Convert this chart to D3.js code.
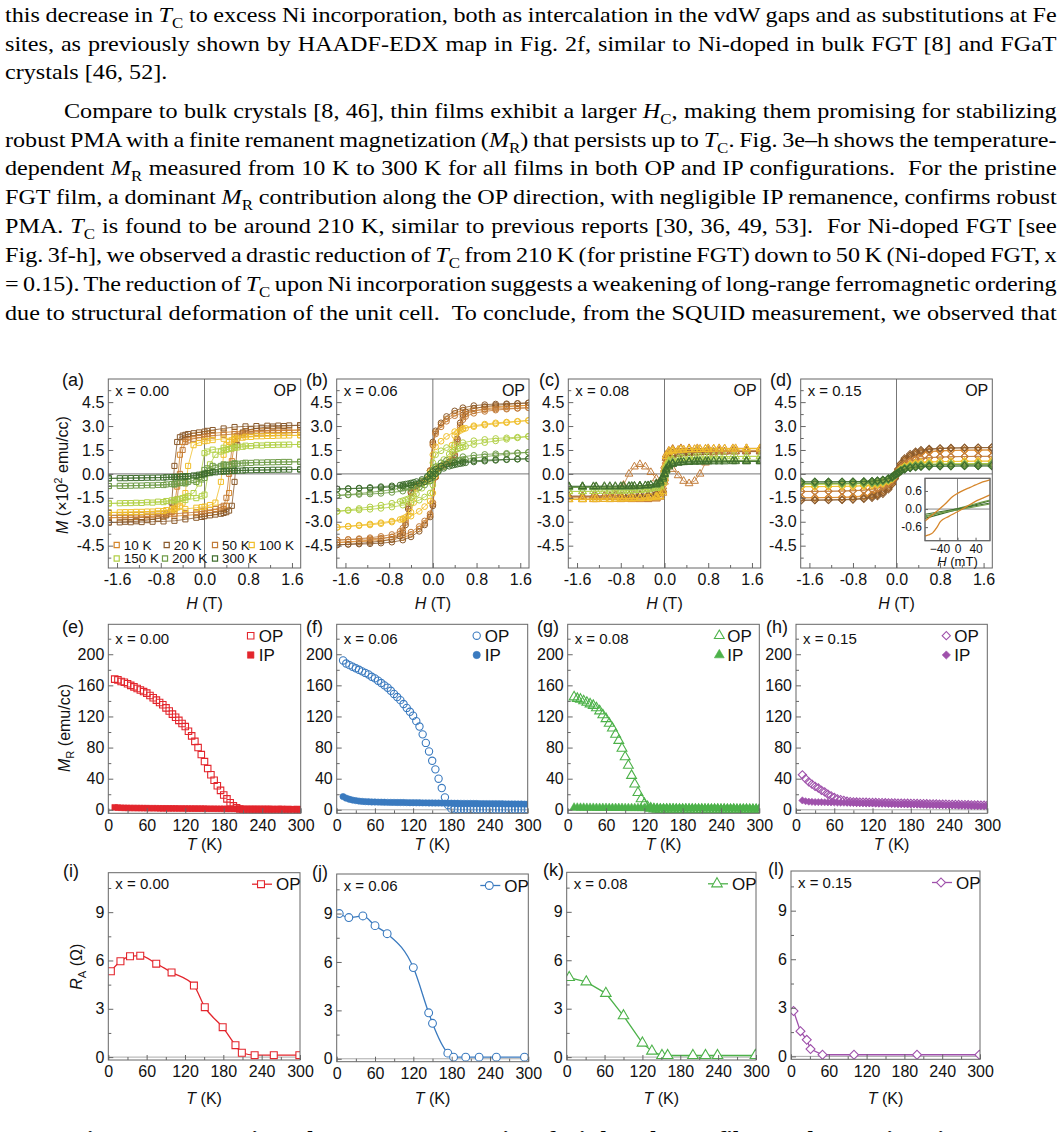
<!DOCTYPE html>
<html lang="en">
<head>
<meta charset="UTF-8">
<title>Fig. 3 - Ni-doped FGT films: hysteresis, remanence and anomalous Hall</title>
<script src="https://d3js.org/d3.v7.min.js"></script>
<style>
  * { margin: 0; padding: 0; box-sizing: border-box; }
  body { background: #fff; width: 1061px; height: 1132px; overflow: hidden; }
  svg text { font-family: "Liberation Sans", Arial, sans-serif; fill: #111; }
  svg text.serif { font-family: "Liberation Serif", "Times New Roman", serif; font-size: 21px; fill: #000; }
</style>
</head>
<body>
<svg id="fig" width="1061" height="1132"></svg>
<script>
// ---------- data ----------
const temps = [10, 20, 50, 100, 150, 200, 300];
const tempColors = ["#d6862b", "#8a5a2c", "#c27c3a", "#f0bf2c", "#b2d046", "#6f9c48", "#3f6e2e"];

// descending branches M(H) in 1e2 emu/cc, one row per temperature (10 K ... 300 K)
const hGridA = [1.75, 1.55, 1.35, 1.15, 0.95, 0.75, 0.55, 0.35, 0.15, 0.05, 0, -0.1, -0.2, -0.3, -0.35, -0.4, -0.45, -0.5, -0.55, -0.6, -0.7, -0.85, -1.05, -1.25, -1.45, -1.75];
const loopA = [
  [2.75, 2.74, 2.73, 2.72, 2.7, 2.68, 2.65, 2.6, 2.55, 2.52, 2.5, 2.45, 2.4, 2.3, 2.2, 2.0, 1.2, -0.8, -2.0, -2.4, -2.55, -2.62, -2.67, -2.7, -2.72, -2.75],
  [3.05, 3.04, 3.03, 3.02, 3.0, 2.98, 2.94, 2.85, 2.75, 2.7, 2.65, 2.6, 2.55, 2.5, 2.45, 2.4, 2.3, 2.0, 0.5, -1.8, -2.6, -2.8, -2.9, -2.97, -3.0, -3.05],
  [2.6, 2.59, 2.58, 2.57, 2.55, 2.53, 2.5, 2.45, 2.4, 2.35, 2.3, 2.25, 2.2, 2.1, 2.0, 1.5, 0.0, -1.6, -2.2, -2.35, -2.45, -2.5, -2.54, -2.57, -2.59, -2.6],
  [2.42, 2.41, 2.4, 2.38, 2.36, 2.33, 2.28, 2.2, 2.12, 2.08, 2.05, 1.95, 1.8, 0.5, -1.2, -1.8, -2.0, -2.1, -2.17, -2.22, -2.27, -2.32, -2.36, -2.38, -2.4, -2.42],
  [1.85, 1.84, 1.83, 1.82, 1.8, 1.77, 1.72, 1.64, 1.52, 1.4, 1.3, -0.6, -1.2, -1.4, -1.47, -1.52, -1.56, -1.6, -1.63, -1.66, -1.7, -1.74, -1.78, -1.81, -1.83, -1.85],
  [0.76, 0.75, 0.74, 0.73, 0.72, 0.7, 0.67, 0.6, 0.5, 0.35, 0.25, -0.2, -0.4, -0.5, -0.53, -0.56, -0.58, -0.6, -0.62, -0.64, -0.66, -0.69, -0.71, -0.73, -0.75, -0.76],
  [0.28, 0.27, 0.26, 0.25, 0.24, 0.23, 0.21, 0.18, 0.12, 0.05, 0.02, -0.05, -0.1, -0.14, -0.15, -0.16, -0.17, -0.18, -0.19, -0.2, -0.21, -0.23, -0.24, -0.26, -0.27, -0.28]
];

const hGridB = [1.75, 1.55, 1.35, 1.15, 0.95, 0.75, 0.55, 0.4, 0.25, 0.15, 0.05, 0, -0.05, -0.1, -0.2, -0.3, -0.35, -0.4, -0.45, -0.5, -0.55, -0.6, -0.75, -0.95, -1.15, -1.35, -1.55, -1.75];
const loopB = [
  [4.3, 4.27, 4.25, 4.22, 4.18, 4.12, 4.0, 3.8, 3.45, 3.1, 2.6, 1.9, 0.2, -0.38, -0.58, -0.72, -0.82, -1.15, -2.1, -3.05, -3.55, -3.75, -3.95, -4.07, -4.15, -4.21, -4.26, -4.3],
  [4.45, 4.42, 4.4, 4.38, 4.34, 4.28, 4.15, 3.95, 3.6, 3.2, 2.7, 2.0, 0.2, -0.4, -0.6, -0.75, -0.85, -1.2, -2.2, -3.2, -3.7, -3.9, -4.1, -4.22, -4.3, -4.36, -4.41, -4.45],
  [4.15, 4.12, 4.1, 4.07, 4.03, 3.97, 3.85, 3.65, 3.3, 2.95, 2.5, 1.8, 0.2, -0.35, -0.55, -0.7, -0.8, -1.1, -2.0, -2.9, -3.4, -3.6, -3.8, -3.92, -4.0, -4.06, -4.11, -4.15],
  [3.35, 3.3, 3.25, 3.2, 3.12, 3.02, 2.85, 2.65, 2.35, 2.05, 1.7, 1.2, 0.1, -0.3, -0.45, -0.9, -1.8, -2.4, -2.6, -2.72, -2.8, -2.86, -2.96, -3.06, -3.14, -3.21, -3.28, -3.35],
  [2.35, 2.3, 2.26, 2.22, 2.16, 2.08, 1.96, 1.83, 1.65, 1.45, 1.2, 0.7, -0.1, -0.5, -0.9, -1.25, -1.38, -1.48, -1.56, -1.62, -1.68, -1.73, -1.84, -1.96, -2.07, -2.17, -2.26, -2.35],
  [1.35, 1.32, 1.29, 1.26, 1.22, 1.16, 1.08, 0.98, 0.85, 0.7, 0.45, 0.25, 0.0, -0.2, -0.45, -0.62, -0.68, -0.74, -0.79, -0.83, -0.87, -0.9, -0.99, -1.08, -1.16, -1.23, -1.3, -1.35],
  [0.95, 0.93, 0.91, 0.89, 0.86, 0.82, 0.76, 0.7, 0.6, 0.5, 0.3, 0.15, 0.0, -0.15, -0.35, -0.48, -0.53, -0.57, -0.61, -0.64, -0.67, -0.7, -0.75, -0.8, -0.85, -0.89, -0.92, -0.95]
];

const hGridC = [1.75, 1.5, 1.25, 1.0, 0.8, 0.6, 0.45, 0.3, 0.15, 0.08, 0.03, 0, -0.03, -0.08, -0.15, -0.25, -0.35, -0.45, -0.55, -0.65, -0.75, -0.9, -1.1, -1.3, -1.5, -1.75];
const loopC = [
  [1.6, 1.6, 1.6, 1.6, 1.6, 1.6, 1.6, 1.58, 1.55, 1.45, 1.2, 0.5, -0.8, -1.3, -1.45, -1.5, -1.52, -1.54, -1.55, -1.56, -1.57, -1.58, -1.59, -1.6, -1.6, -1.6],
  [1.4, 1.4, 1.4, 1.39, 1.38, 1.37, 1.35, 1.32, 1.28, 1.2, 1.0, 0.3, -0.5, -1.0, -1.15, -1.22, -1.27, -1.3, -1.32, -1.34, -1.36, -1.37, -1.38, -1.39, -1.4, -1.4],
  [1.45, 1.45, 1.45, 1.46, 1.48, 1.5, 1.55, 1.6, 1.55, 1.4, 1.0, 0.2, -0.4, -0.5, -0.3, 0.1, 0.45, 0.6, 0.45, 0.0, -0.7, -1.25, -1.4, -1.43, -1.44, -1.45],
  [1.58, 1.58, 1.57, 1.57, 1.56, 1.55, 1.54, 1.52, 1.48, 1.4, 1.1, 0.3, -0.6, -1.2, -1.4, -1.47, -1.5, -1.52, -1.53, -1.54, -1.55, -1.56, -1.57, -1.57, -1.58, -1.58],
  [1.1, 1.1, 1.09, 1.08, 1.07, 1.05, 1.02, 0.98, 0.9, 0.8, 0.5, 0.1, -0.3, -0.7, -0.85, -0.93, -0.98, -1.01, -1.03, -1.05, -1.06, -1.07, -1.08, -1.09, -1.1, -1.1],
  [0.85, 0.85, 0.84, 0.84, 0.83, 0.82, 0.8, 0.77, 0.7, 0.6, 0.35, 0.05, -0.2, -0.5, -0.65, -0.72, -0.76, -0.78, -0.8, -0.81, -0.82, -0.83, -0.84, -0.84, -0.85, -0.85],
  [0.78, 0.78, 0.78, 0.77, 0.77, 0.76, 0.75, 0.72, 0.66, 0.55, 0.3, 0.02, -0.2, -0.45, -0.6, -0.68, -0.72, -0.74, -0.75, -0.76, -0.76, -0.77, -0.77, -0.78, -0.78, -0.78]
];

const hGridD = [1.75, 1.5, 1.25, 1.0, 0.8, 0.6, 0.45, 0.35, 0.25, 0.15, 0.08, 0.03, 0, -0.03, -0.08, -0.15, -0.25, -0.35, -0.45, -0.6, -0.8, -1.0, -1.25, -1.5, -1.75];
const loopD = [
  [1.5, 1.5, 1.49, 1.48, 1.46, 1.42, 1.36, 1.28, 1.15, 0.9, 0.6, 0.25, 0.05, -0.15, -0.45, -0.8, -1.05, -1.2, -1.3, -1.38, -1.43, -1.46, -1.48, -1.49, -1.5],
  [1.65, 1.65, 1.64, 1.63, 1.61, 1.57, 1.5, 1.4, 1.25, 0.98, 0.65, 0.3, 0.08, -0.15, -0.5, -0.88, -1.15, -1.32, -1.43, -1.52, -1.58, -1.61, -1.63, -1.64, -1.65],
  [1.1, 1.1, 1.09, 1.08, 1.06, 1.03, 0.98, 0.92, 0.82, 0.64, 0.42, 0.16, 0.03, -0.1, -0.33, -0.6, -0.78, -0.88, -0.95, -1.01, -1.05, -1.07, -1.09, -1.1, -1.1],
  [0.8, 0.8, 0.79, 0.78, 0.77, 0.75, 0.72, 0.68, 0.6, 0.48, 0.32, 0.12, 0.02, -0.08, -0.25, -0.45, -0.58, -0.65, -0.7, -0.74, -0.77, -0.78, -0.79, -0.8, -0.8],
  [0.65, 0.65, 0.64, 0.64, 0.63, 0.61, 0.59, 0.55, 0.49, 0.39, 0.26, 0.1, 0.02, -0.06, -0.2, -0.36, -0.47, -0.53, -0.57, -0.6, -0.62, -0.63, -0.64, -0.65, -0.65],
  [0.6, 0.6, 0.59, 0.59, 0.58, 0.57, 0.55, 0.52, 0.46, 0.37, 0.25, 0.1, 0.02, -0.06, -0.19, -0.34, -0.44, -0.5, -0.53, -0.56, -0.58, -0.59, -0.59, -0.6, -0.6],
  [0.5, 0.5, 0.5, 0.49, 0.49, 0.48, 0.46, 0.43, 0.38, 0.3, 0.2, 0.08, 0.01, -0.05, -0.16, -0.28, -0.37, -0.42, -0.45, -0.47, -0.48, -0.49, -0.5, -0.5, -0.5]
];

// inset of (d): low-field loops, H in mT
const insetOrangeUpH = [-72, -56, -40, -24, -12, 0, 14, 28, 40, 56, 72];
const insetOrangeUpM = [-0.4, -0.2, 0.0, 0.22, 0.4, 0.52, 0.63, 0.72, 0.8, 0.9, 0.97];
const insetOrangeDnH = [-72, -64, -55, -46, -38, -20, 0, 20, 38, 56, 72];
const insetOrangeDnM = [-0.9, -0.86, -0.79, -0.62, -0.42, -0.25, -0.09, 0.08, 0.24, 0.36, 0.47];
const insetGreenH = [-72, -36, 0, 36, 72];
const insetGreenM = [
  [-0.31, -0.16, -0.02, 0.13, 0.27],
  [-0.26, -0.12, 0.02, 0.16, 0.3],
  [-0.17, -0.08, 0.01, 0.1, 0.2],
  [-0.22, -0.12, -0.03, 0.07, 0.17]
];
const insetGreenColors = ["#3f6e2e", "#6f9c48", "#3f6e2e", "#6f9c48"];

// remanent magnetization vs T (emu/cc)
const tK = [10, 15, 20, 25, 30, 35, 40, 45, 50, 55, 60, 65, 70, 75, 80, 85, 90, 95, 100, 105,
  110, 115, 120, 125, 130, 135, 140, 145, 150, 155, 160, 165, 170, 175, 180, 185, 190, 195, 200, 205,
  210, 215, 220, 225, 230, 235, 240, 245, 250, 255, 260, 265, 270, 275, 280, 285, 290, 295, 300];
const mrOP_000 = [168, 167, 165, 164, 162, 160, 158, 156, 154, 152, 150, 147, 144, 141, 138, 135, 131, 127, 123, 119,
  115, 111, 107, 101, 95, 88, 80, 71, 62, 53, 45, 38, 31, 25, 19, 14, 9, 5, 2.5, 1,
  0.4, 0.3, 0.3, 0.2, 0.3, 0.2, 0.2, 0.3, 0.2, 0.2, 0.1, 0.2, 0.2, 0.1, 0.2, 0.1, 0.1, 0.2, 0.1];
const mrIP_000 = [3.2, 2.8, 2.6, 2.5, 2.4, 2.3, 2.3, 2.2, 2.2, 2.1, 2.1, 2.0, 2.0, 2.0, 1.9, 1.9, 1.9, 1.8, 1.8, 1.8,
  1.7, 1.7, 1.7, 1.6, 1.6, 1.6, 1.5, 1.5, 1.5, 1.4, 1.4, 1.4, 1.3, 1.3, 1.3, 1.2, 1.2, 1.2, 1.1, 1.1,
  1.1, 1.0, 1.0, 1.0, 1.0, 0.9, 0.9, 0.9, 0.9, 0.8, 0.8, 0.8, 0.8, 0.7, 0.7, 0.7, 0.7, 0.6, 0.6];
const mrOP_006 = [192, 188, 186, 184, 182, 180, 178, 176, 174, 171, 169, 166, 163, 160, 157, 153, 149, 145, 141, 136,
  131, 126, 121, 114, 107, 97, 86, 75, 63, 52, 40, 28, 16, 6, 1.5, 0.6, 0.4, 0.3, 0.3, 0.3,
  0.3, 0.2, 0.3, 0.2, 0.2, 0.3, 0.2, 0.2, 0.2, 0.2, 0.2, 0.1, 0.2, 0.2, 0.1, 0.2, 0.1, 0.1, 0.1];
const mrIP_006 = [17, 15, 13.5, 12.5, 11.8, 11.2, 10.8, 10.5, 10.3, 10.1, 10.0, 9.9, 9.8, 9.7, 9.6, 9.5, 9.5, 9.4, 9.3, 9.3,
  9.2, 9.1, 9.1, 9.0, 9.0, 8.9, 8.9, 8.8, 8.8, 8.7, 8.7, 8.6, 8.6, 8.5, 8.5, 8.4, 8.4, 8.3, 8.3, 8.2,
  8.2, 8.1, 8.1, 8.0, 8.0, 7.9, 7.9, 7.8, 7.8, 7.7, 7.7, 7.6, 7.6, 7.5, 7.5, 7.4, 7.4, 7.3, 7.3];
const mrOP_008 = [145, 143, 142, 140, 138, 136, 134, 131, 127, 122, 117, 111, 105, 97, 89, 79, 68, 57, 44, 33,
  22, 14, 8, 4, 2, 1, 0.6, 0.4, 0.3, 0.3, 0.3, 0.3, 0.2, 0.3, 0.2, 0.2, 0.3, 0.2, 0.2, 0.2,
  0.2, 0.2, 0.2, 0.1, 0.2, 0.2, 0.1, 0.2, 0.1, 0.1, 0.2, 0.1, 0.1, 0.1, 0.2, 0.1, 0.1, 0.1, 0.1];
const mrIP_008 = [2.8, 2.7, 2.6, 2.6, 2.5, 2.5, 2.5, 2.4, 2.4, 2.4, 2.4, 2.3, 2.3, 2.3, 2.3, 2.3, 2.2, 2.2, 2.2, 2.2,
  2.2, 2.1, 2.1, 2.1, 2.1, 2.1, 2.0, 2.0, 2.0, 2.0, 2.0, 1.9, 1.9, 1.9, 1.9, 1.9, 1.8, 1.8, 1.8, 1.8,
  1.8, 1.7, 1.7, 1.7, 1.7, 1.7, 1.6, 1.6, 1.6, 1.6, 1.6, 1.5, 1.5, 1.5, 1.5, 1.5, 1.4, 1.4, 1.4];
const mrOP_015 = [45, 40, 36, 33, 30, 28, 25, 23, 20, 18, 16, 14, 13, 12, 11, 10.5, 10.2, 10.0, 9.9, 9.8,
  9.7, 9.6, 9.5, 9.4, 9.3, 9.2, 9.1, 9.0, 8.9, 8.8, 8.7, 8.6, 8.5, 8.4, 8.3, 8.2, 8.1, 8.0, 7.9, 7.8,
  7.7, 7.6, 7.5, 7.4, 7.3, 7.2, 7.1, 7.0, 6.9, 6.8, 6.7, 6.6, 6.5, 6.4, 6.3, 6.2, 6.1, 6.0, 5.9];
const mrIP_015 = [12, 11, 10.5, 10.2, 10.0, 9.9, 9.8, 9.7, 9.6, 9.5, 9.4, 9.3, 9.2, 9.1, 9.0, 8.9, 8.8, 8.7, 8.6, 8.5,
  8.4, 8.3, 8.2, 8.1, 8.0, 7.9, 7.8, 7.7, 7.6, 7.5, 7.4, 7.3, 7.2, 7.1, 7.0, 6.9, 6.8, 6.7, 6.6, 6.5,
  6.4, 6.3, 6.2, 6.1, 6.0, 5.9, 5.8, 5.7, 5.6, 5.5, 5.4, 5.3, 5.2, 5.1, 5.0, 4.9, 4.8, 4.7, 4.6];

// anomalous Hall amplitude R_A (ohm) vs T
const raT_000 = [4, 19, 34, 50, 75, 99, 134, 151, 179, 199, 209, 229, 259, 299];
const ra_000 = [5.33, 5.95, 6.26, 6.3, 5.8, 5.26, 4.44, 3.1, 1.86, 0.74, 0.27, 0.12, 0.12, 0.12];
const raT_006 = [4, 19, 41, 60, 79, 120, 144, 150, 174, 183, 202, 223, 250, 294];
const ra_006 = [9.0, 8.75, 8.85, 8.25, 7.75, 5.65, 2.85, 2.2, 0.35, 0.1, 0.1, 0.1, 0.1, 0.1];
const raT_008 = [4, 31, 62, 90, 120, 135, 151, 160, 200, 220, 239, 299];
const ra_008 = [4.93, 4.66, 3.95, 2.56, 0.87, 0.37, 0.1, 0.1, 0.1, 0.1, 0.1, 0.1];
const raT_015 = [4, 15, 25, 31, 50, 100, 200, 299];
const ra_015 = [2.8, 1.56, 1.02, 0.45, 0.1, 0.1, 0.1, 0.1];

const dopings = ["x = 0.00", "x = 0.06", "x = 0.08", "x = 0.15"];
const seriesColors = ["#e3262d", "#3a7abf", "#4db24a", "#9f51ab"];
const loopTicksX = [-1.6, -0.8, 0.0, 0.8, 1.6];
const loopTicksY = [-4.5, -3.0, -1.5, 0.0, 1.5, 3.0, 4.5];
const tempTicks = [0, 60, 120, 180, 240, 300];
const mrTicks = [0, 40, 80, 120, 160, 200];
const raTicks = [0, 3, 6, 9];

// ---------- drawing ----------
const svg = d3.select("#fig");
const FONT = "Liberation Sans, Arial, sans-serif";

function rich(sel, segs, size) {
  let shift = 0;
  segs.forEach(([s, k]) => {
    const ts = sel.append("tspan").text(s);
    let target = 0;
    if (k === "sub") { target = size * 0.28; ts.attr("font-size", size * 0.7); }
    if (k === "sup") { target = -size * 0.4; ts.attr("font-size", size * 0.7); }
    if (k === "i") ts.attr("font-style", "italic");
    if (target !== shift) { ts.attr("dy", target - shift); shift = target; }
  });
  return sel;
}

// body text, one justified line at a time
const textLines = [
  { y: 22, x0: 5, segs: [["this decrease in "], ["T", "i"], ["C", "sub"], [" to excess Ni incorporation, both as intercalation in the vdW gaps and as substitutions at Fe"]] },
  { y: 51, x0: 5, segs: [["sites, as previously shown by HAADF-EDX map in Fig. 2f, similar to Ni-doped in bulk FGT [8] and FGaT"]] },
  { y: 79, x0: 5, last: true, segs: [["crystals [46, 52]."]] },
  { y: 118, x0: 64, segs: [["Compare to bulk crystals [8, 46], thin films exhibit a larger "], ["H", "i"], ["C", "sub"], [", making them promising for stabilizing"]] },
  { y: 147, x0: 5, segs: [["robust PMA with a finite remanent magnetization ("], ["M", "i"], ["R", "sub"], [") that persists up to "], ["T", "i"], ["C", "sub"], [". Fig. 3e\u2013h shows the temperature-"]] },
  { y: 175, x0: 5, segs: [["dependent "], ["M", "i"], ["R", "sub"], [" measured from 10 K to 300 K for all films in both OP and IP configurations.  For the pristine"]] },
  { y: 204, x0: 5, segs: [["FGT film, a dominant "], ["M", "i"], ["R", "sub"], [" contribution along the OP direction, with negligible IP remanence, confirms robust"]] },
  { y: 233, x0: 5, segs: [["PMA. "], ["T", "i"], ["C", "sub"], [" is found to be around 210 K, similar to previous reports [30, 36, 49, 53].  For Ni-doped FGT [see"]] },
  { y: 262, x0: 5, segs: [["Fig. 3f-h], we observed a drastic reduction of "], ["T", "i"], ["C", "sub"], [" from 210 K (for pristine FGT) down to 50 K (Ni-doped FGT, x"]] },
  { y: 291, x0: 5, segs: [["= 0.15). The reduction of "], ["T", "i"], ["C", "sub"], [" upon Ni incorporation suggests a weakening of long-range ferromagnetic ordering"]] },
  { y: 320, x0: 5, segs: [["due to structural deformation of the unit cell.  To conclude, from the SQUID measurement, we observed that"]] }
];
const textRight = 1057;
// the page text is wider than the font at this height: find one common horizontal stretch
const bodyTexts = textLines.map(line => {
  const t = svg.append("text").attr("class", "serif").attr("x", 0).attr("y", 0)
    .attr("xml:space", "preserve");
  rich(t, line.segs, 21);
  const len = t.node().getComputedTextLength();
  const spaces = line.segs.map(s => s[0]).join("").split(" ").length - 1;
  return { t, len, spaces, line };
});
const stretch = d3.median(bodyTexts.filter(b => !b.line.last), b => (textRight - b.line.x0) / b.len);
bodyTexts.forEach(({ t, len, spaces, line }) => {
  t.attr("transform", `translate(${line.x0},${line.y}) scale(${stretch},1)`);
  if (!line.last) {
    t.style("word-spacing", (((textRight - line.x0) / stretch - len) / spaces) + "px");
  }
});

// caption, cut by the bottom edge as in the page crop
svg.append("text").attr("class", "serif").attr("font-weight", "bold")
  .attr("transform", `translate(72,1146) scale(${stretch},1)`)
  .text("Figure 3: Magnetic and transport properties of Ni-doped FGT films and MFM imaging.");

let clipId = 0;
function panel(r, xDom, yDom) {
  const g = svg.append("g");
  const x = d3.scaleLinear().domain(xDom).range([r.x0, r.x1]);
  const y = d3.scaleLinear().domain(yDom).range([r.y1, r.y0]);
  const id = "clip" + (clipId++);
  svg.append("clipPath").attr("id", id).append("rect")
    .attr("x", r.x0).attr("y", r.y0).attr("width", r.x1 - r.x0).attr("height", r.y1 - r.y0);
  const back = g.append("g");
  const data = g.append("g").attr("clip-path", `url(#${id})`);
  const front = g.append("g");
  return { g, back, data, front, x, y, r };
}

function axes(p, o) {
  const { front, x, y, r } = p;
  const styleAxis = s => {
    s.select(".domain").remove();
    s.selectAll("line").attr("stroke", "#666");
    s.attr("font-size", 16).attr("font-family", FONT);
    s.selectAll("text").attr("fill", "#111");
  };
  front.append("g").attr("transform", `translate(0,${r.y1})`)
    .call(d3.axisBottom(x).tickValues(o.xMinor).tickSize(-3).tickFormat("")).call(styleAxis);
  front.append("g").attr("transform", `translate(0,${r.y1})`)
    .call(d3.axisBottom(x).tickValues(o.xTicks).tickSize(-5).tickPadding(6).tickFormat(o.xFmt)).call(styleAxis);
  front.append("g").attr("transform", `translate(${r.x0},0)`)
    .call(d3.axisLeft(y).tickValues(o.yMinor).tickSize(-3).tickFormat("")).call(styleAxis);
  front.append("g").attr("transform", `translate(${r.x0},0)`)
    .call(d3.axisLeft(y).tickValues(o.yTicks).tickSize(-5).tickPadding(4).tickFormat(o.yFmt)).call(styleAxis);
  front.append("rect").attr("x", r.x0).attr("y", r.y0)
    .attr("width", r.x1 - r.x0).attr("height", r.y1 - r.y0)
    .attr("fill", "none").attr("stroke", "#666").attr("stroke-width", 1);
}

function marker(type, size) {
  if (type === "di") return d3.symbol().type(d3.symbolSquare).size(size)();
  const m = { sq: d3.symbolSquare, ci: d3.symbolCircle, tr: d3.symbolTriangle };
  return d3.symbol().type(m[type]).size(size)();
}

function markers(g, pts, x, y, type, size, color, filled, sw) {
  g.selectAll(null).data(pts).join("path")
    .attr("transform", d => `translate(${x(d[0])},${y(d[1])})` + (type === "di" ? " rotate(45)" : ""))
    .attr("d", marker(type, size))
    .attr("fill", filled ? color : "none")
    .attr("stroke", color).attr("stroke-width", sw);
}

function label(x, y, segs, size, anchor, rot) {
  const t = svg.append("text").attr("font-size", size).attr("text-anchor", anchor || "start");
  if (rot) t.attr("transform", `translate(${x},${y}) rotate(-90)`);
  else t.attr("x", x).attr("y", y);
  rich(t, segs, size);
  return t;
}

const shapes = ["sq", "ci", "tr", "di"];
const letters1 = ["(a)", "(b)", "(c)", "(d)"];
const letters2 = ["(e)", "(f)", "(g)", "(h)"];
const letters3 = ["(i)", "(j)", "(k)", "(l)"];

// ---- row 1: hysteresis loops ----
const row1 = [
  { x0: 108.3, x1: 300.7, y0: 379, y1: 568, lx: 62 },
  { x0: 336.7, x1: 529, y0: 379, y1: 568, lx: 306 },
  { x0: 568.3, x1: 760.7, y0: 379, y1: 568, lx: 539 },
  { x0: 800.7, x1: 992.3, y0: 379, y1: 568, lx: 770 }
];
const grids = [hGridA, hGridB, hGridC, hGridD];
const loops = [loopA, loopB, loopC, loopD];
const fmt1 = d => d.toFixed(1);

row1.forEach((r, k) => {
  const p = panel(r, [-1.76, 1.76], [-5.9, 5.95]);
  p.back.append("line").attr("x1", r.x0).attr("x2", r.x1).attr("y1", p.y(0)).attr("y2", p.y(0)).attr("stroke", "#777");
  p.back.append("line").attr("x1", p.x(0)).attr("x2", p.x(0)).attr("y1", r.y0).attr("y2", r.y1).attr("stroke", "#777");
  const line = d3.line().x(d => p.x(d[0])).y(d => p.y(d[1]));
  loops[k].forEach((m, i) => {
    const down = grids[k].map((h, j) => [h, m[j]]);
    // return branch: point-reflection of the measured descending branch
    const up = grids[k].map((h, j) => [-h, -m[j]]);
    const pts = down.concat(up);
    p.data.append("path").attr("d", line(pts)).attr("fill", "none")
      .attr("stroke", tempColors[i]).attr("stroke-width", 1).attr("stroke-opacity", 0.8);
    markers(p.data, pts, p.x, p.y, shapes[k], 26, tempColors[i], false, 1);
  });
  axes(p, {
    xTicks: loopTicksX, xMinor: [-1.2, -0.4, 0.4, 1.2], xFmt: fmt1,
    yTicks: loopTicksY, yMinor: [-5.25, -3.75, -2.25, -0.75, 0.75, 2.25, 3.75, 5.25], yFmt: fmt1
  });
  label(r.lx, r.y0 + 7, [[letters1[k]]], 18);
  label(r.x0 + 7, r.y0 + 17, [[dopings[k]]], 15);
  label(r.x1 - 4, r.y0 + 17, [["OP"]], 16, "end");
  label((r.x0 + r.x1) / 2, 609, [["H", "i"], [" (T)"]], 16, "middle");

  if (k === 0) {
    const leg = [[116.7, 549.5], [166.7, 549.5], [215, 549.5], [251.7, 549.5], [116.7, 563], [165, 563], [215, 563]];
    temps.forEach((T, i) => {
      const [lx, ly] = leg[i];
      svg.append("path").attr("transform", `translate(${lx},${ly - 4.5})`).attr("d", marker("sq", 26))
        .attr("fill", "none").attr("stroke", tempColors[i]).attr("stroke-width", 1.2);
      label(lx + 7, ly, [[T + " K"]], 13.5);
    });
  }
  if (k === 3) {
    // inset: low-field loops
    const ir = { x0: 925, x1: 990, y0: 478.3, y1: 540.7 };
    const ix = d3.scaleLinear().domain([-72, 72]).range([ir.x0, ir.x1]);
    const iy = d3.scaleLinear().domain([-1.05, 1.02]).range([ir.y1, ir.y0]);
    const ig = svg.append("g");
    ig.append("rect").attr("x", ir.x0).attr("y", ir.y0).attr("width", ir.x1 - ir.x0).attr("height", ir.y1 - ir.y0)
      .attr("fill", "#fff").attr("stroke", "#666");
    ig.append("line").attr("x1", ir.x0).attr("x2", ir.x1).attr("y1", iy(0)).attr("y2", iy(0)).attr("stroke", "#888");
    ig.append("line").attr("x1", ix(0)).attr("x2", ix(0)).attr("y1", ir.y0).attr("y2", ir.y1).attr("stroke", "#888");
    const il = d3.line().x(d => ix(d[0])).y(d => iy(d[1])).curve(d3.curveMonotoneX);
    insetGreenM.forEach((m, i) => {
      ig.append("path").attr("d", il(insetGreenH.map((h, j) => [h, m[j]]))).attr("fill", "none")
        .attr("stroke", insetGreenColors[i]).attr("stroke-width", 1.1);
    });
    ig.append("path").attr("d", il(insetOrangeUpH.map((h, j) => [h, insetOrangeUpM[j]]))).attr("fill", "none")
      .attr("stroke", "#d6862b").attr("stroke-width", 1.3);
    ig.append("path").attr("d", il(insetOrangeDnH.map((h, j) => [h, insetOrangeDnM[j]]))).attr("fill", "none")
      .attr("stroke", "#d6862b").attr("stroke-width", 1.3);
    ig.append("rect").attr("x", ir.x0).attr("y", ir.y0).attr("width", ir.x1 - ir.x0).attr("height", ir.y1 - ir.y0)
      .attr("fill", "none").attr("stroke", "#666");
    const ia = s => { s.select(".domain").remove(); s.selectAll("line").attr("stroke", "#666");
      s.attr("font-size", 12).attr("font-family", FONT); s.selectAll("text").attr("fill", "#111"); };
    ig.append("g").attr("transform", `translate(0,${ir.y1})`)
      .call(d3.axisBottom(ix).tickValues([-40, 0, 40]).tickSize(-3).tickPadding(4)).call(ia);
    ig.append("g").attr("transform", `translate(${ir.x0},0)`)
      .call(d3.axisLeft(iy).tickValues([-0.6, 0, 0.6]).tickSize(-3).tickPadding(3).tickFormat(fmt1)).call(ia);
    label((ir.x0 + ir.x1) / 2, 566, [["H", "i"], [" (mT)"]], 13, "middle");
  }
});
label(68, 475, [["M", "i"], [" (\u00d710"], ["2", "sup"], [" emu/cc)"]], 16, "middle", true);

// ---- row 2: remanence vs T ----
const row2 = [
  { x0: 108.3, x1: 300.7, y0: 624.3, y1: 813.3, lx: 62, leg: -50 },
  { x0: 336.7, x1: 527.7, y0: 624.3, y1: 813.3, lx: 306, leg: -51 },
  { x0: 567.7, x1: 759.3, y0: 624.3, y1: 813.3, lx: 537, leg: -40 },
  { x0: 796, x1: 987.3, y0: 624.3, y1: 813.3, lx: 766, leg: -41 }
];
const mrOP = [mrOP_000, mrOP_006, mrOP_008, mrOP_015];
const mrIP = [mrIP_000, mrIP_006, mrIP_008, mrIP_015];
row2.forEach((r, k) => {
  const p = panel(r, [0, 300], [-4.5, 238.5]);
  const c = seriesColors[k];
  p.back.append("line").attr("x1", r.x0).attr("x2", r.x1).attr("y1", p.y(0)).attr("y2", p.y(0)).attr("stroke", "#aaa");
  markers(p.data, tK.map((t, j) => [t, mrOP[k][j]]), p.x, p.y, shapes[k], k === 3 ? 34 : 42, c, false, 1.1);
  markers(p.data, tK.map((t, j) => [t, mrIP[k][j]]), p.x, p.y, shapes[k], k === 3 ? 26 : 32, c, true, 0.6);
  axes(p, {
    xTicks: tempTicks, xMinor: [30, 90, 150, 210, 270], xFmt: d => d,
    yTicks: mrTicks, yMinor: [20, 60, 100, 140, 180, 220], yFmt: d => d
  });
  label(r.lx, r.y0 + 9, [[letters2[k]]], 18);
  label(r.x0 + 7, r.y0 + 20, [[dopings[k]]], 15);
  const mx = r.x1 + r.leg;
  svg.append("path").attr("transform", `translate(${mx},635.7)` + (shapes[k] === "di" ? " rotate(45)" : ""))
    .attr("d", marker(shapes[k], k === 3 ? 34 : 42)).attr("fill", "none").attr("stroke", c).attr("stroke-width", 1.1);
  svg.append("path").attr("transform", `translate(${mx},655)` + (shapes[k] === "di" ? " rotate(45)" : ""))
    .attr("d", marker(shapes[k], k === 3 ? 34 : 42)).attr("fill", c).attr("stroke", c).attr("stroke-width", 0.6);
  label(mx + 8, 641.8, [["OP"]], 17);
  label(mx + 8, 661.2, [["IP"]], 17);
  label((r.x0 + r.x1) / 2, 849.5, [["T", "i"], [" (K)"]], 16, "middle");
});
label(70, 728, [["M", "i"], ["R", "sub"], [" (emu/cc)"]], 16, "middle", true);

// ---- row 3: anomalous Hall amplitude ----
const row3 = [
  { x0: 108.3, x1: 300, y0: 872.7, y1: 1060, lx: 63 },
  { x0: 336.7, x1: 528.3, y0: 874, y1: 1061.7, lx: 312 },
  { x0: 566.7, x1: 756, y0: 872.3, y1: 1060, lx: 543 },
  { x0: 791, x1: 980, y0: 871, y1: 1059.3, lx: 768 }
];
const raT = [raT_000, raT_006, raT_008, raT_015];
const raV = [ra_000, ra_006, ra_008, ra_015];
const raCurves = [d3.curveMonotoneX, d3.curveMonotoneX, d3.curveLinear, d3.curveLinear];
row3.forEach((r, k) => {
  const p = panel(r, [0, 300], [-0.18, 11.45]);
  const c = seriesColors[k];
  p.back.append("line").attr("x1", r.x0).attr("x2", r.x1).attr("y1", p.y(0)).attr("y2", p.y(0)).attr("stroke", "#aaa");
  const pts = raT[k].map((t, j) => [t, raV[k][j]]);
  p.data.append("path").attr("d", d3.line().x(d => p.x(d[0])).y(d => p.y(d[1])).curve(raCurves[k])(pts))
    .attr("fill", "none").attr("stroke", c).attr("stroke-width", 1.3);
  markers(p.data, pts, p.x, p.y, shapes[k], k === 3 ? 40 : 48, c, false, 1.1);
  p.data.selectAll("path").filter(function () { return this.getAttribute("transform"); }).attr("fill", "#fff");
  axes(p, {
    xTicks: tempTicks, xMinor: [30, 90, 150, 210, 270], xFmt: d => d,
    yTicks: raTicks, yMinor: [1.5, 4.5, 7.5, 10.5], yFmt: d => d
  });
  label(r.lx, r.y0 + 4, [[letters3[k]]], 18);
  label(r.x0 + 7, r.y0 + 16.5, [[dopings[k]]], 15);
  const ly = r.y0 + 11.5;
  svg.append("line").attr("x1", r.x1 - 48).attr("x2", r.x1 - 28).attr("y1", ly).attr("y2", ly)
    .attr("stroke", c).attr("stroke-width", 1.3);
  svg.append("path").attr("transform", `translate(${r.x1 - 39},${ly})` + (shapes[k] === "di" ? " rotate(45)" : ""))
    .attr("d", marker(shapes[k], k === 3 ? 40 : 48)).attr("fill", "#fff").attr("stroke", c).attr("stroke-width", 1.1);
  label(r.x1 - 24, ly + 6, [["OP"]], 17);
  label((r.x0 + r.x1) / 2, 1103.5, [["T", "i"], [" (K)"]], 16, "middle");
});
label(82, 966.7, [["R", "i"], ["A", "sub"], [" (\u03a9)"]], 16, "middle", true);
</script>
</body>
</html>
